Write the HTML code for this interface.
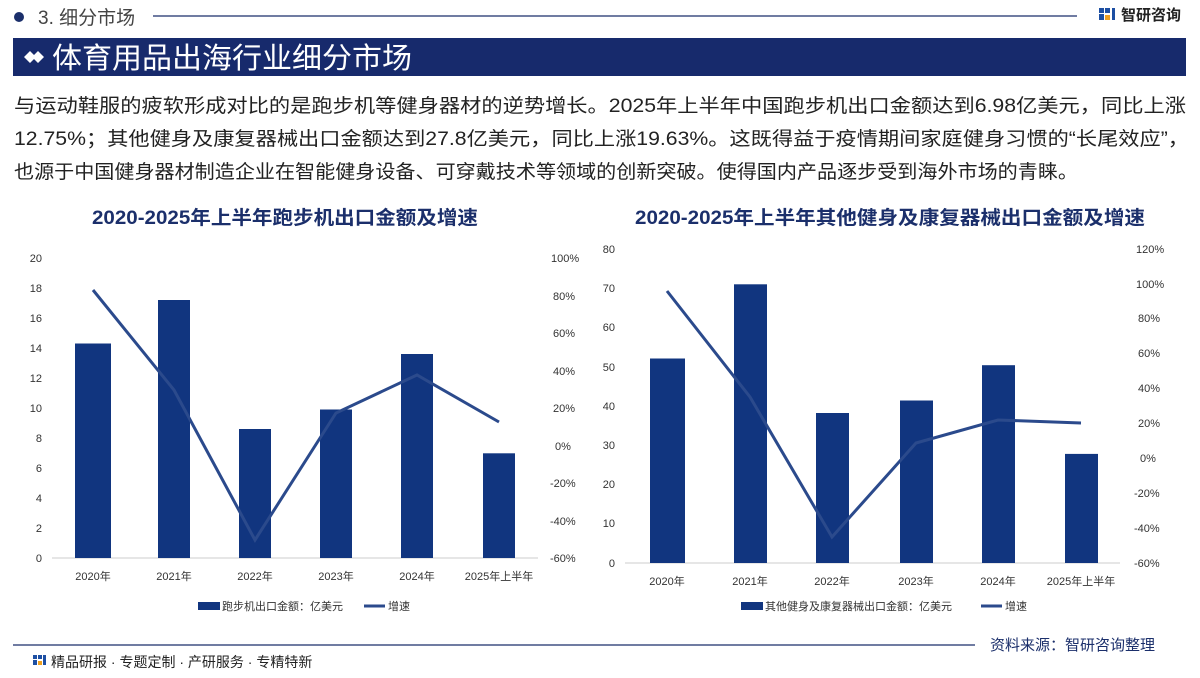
<!DOCTYPE html>
<html><head><meta charset="utf-8"><style>
body{margin:0;width:1200px;height:673px;overflow:hidden;background:#fff;font-family:"Liberation Sans","Noto Sans CJK SC",sans-serif;}
svg text{font-family:"Liberation Sans","Noto Sans CJK SC",sans-serif;}
</style></head><body>
<svg width="1200" height="673" viewBox="0 0 1200 673" xmlns="http://www.w3.org/2000/svg">
<circle cx="19" cy="17" r="5" fill="#1b2f6b"/>
<text x="38" y="24" font-size="19" fill="#444">3. 细分市场</text>
<line x1="153" y1="16" x2="1077" y2="16" stroke="#1b2f6b" stroke-width="1.2"/>
<g fill="#1d4fa3"><rect x="1099" y="8" width="5" height="5"/><rect x="1105" y="8" width="5" height="5"/><rect x="1099" y="14" width="5" height="6"/><rect x="1112" y="8" width="3" height="12"/><rect x="1105" y="15" width="5" height="5" fill="#f0a020"/></g>
<text x="1121" y="20" font-size="15" font-weight="bold" fill="#222">智研咨询</text>
<rect x="13" y="38" width="1173" height="38" fill="#172a6c"/>
<path d="M24 57 L30 51 L36 57 L30 63Z M32 57 L38 51 L44 57 L38 63Z" fill="#fff"/>
<text x="52" y="68" font-size="29" fill="#fff" textLength="360" lengthAdjust="spacingAndGlyphs">体育用品出海行业细分市场</text>
<g font-size="19" fill="#222">
<text x="14" y="112" textLength="1172" lengthAdjust="spacingAndGlyphs">与运动鞋服的疲软形成对比的是跑步机等健身器材的逆势增长。2025年上半年中国跑步机出口金额达到6.98亿美元，同比上涨</text>
<text x="14" y="145" textLength="1175" lengthAdjust="spacingAndGlyphs">12.75%；其他健身及康复器械出口金额达到27.8亿美元，同比上涨19.63%。这既得益于疫情期间家庭健身习惯的“长尾效应”，</text>
<text x="14" y="178" textLength="1064" lengthAdjust="spacingAndGlyphs">也源于中国健身器材制造企业在智能健身设备、可穿戴技术等领域的创新突破。使得国内产品逐步受到海外市场的青睐。</text>
</g>
<!-- left chart -->
<text x="92" y="224" font-size="19" font-weight="bold" fill="#1b2f6b" textLength="386" lengthAdjust="spacingAndGlyphs">2020-2025年上半年跑步机出口金额及增速</text>
<g font-size="11" fill="#333" text-anchor="end">
<text x="42" y="262">20</text><text x="42" y="292">18</text><text x="42" y="322">16</text><text x="42" y="352">14</text><text x="42" y="382">12</text><text x="42" y="412">10</text><text x="42" y="442">8</text><text x="42" y="472">6</text><text x="42" y="502">4</text><text x="42" y="532">2</text><text x="42" y="562">0</text>
</g>
<g font-size="11" fill="#333">
<text x="551" y="262">100%</text><text x="553" y="300">80%</text><text x="553" y="337">60%</text><text x="553" y="375">40%</text><text x="553" y="412">20%</text><text x="555" y="450">0%</text><text x="550" y="487">-20%</text><text x="550" y="525">-40%</text><text x="550" y="562">-60%</text>
</g>
<line x1="52" y1="558" x2="538" y2="558" stroke="#ccc"/>
<g fill="#11357f">
<rect x="75" y="343.5" width="36" height="214.5"/><rect x="158" y="300" width="32" height="258"/><rect x="239" y="429" width="32" height="129"/><rect x="320" y="409.5" width="32" height="148.5"/><rect x="401" y="354" width="32" height="204"/><rect x="483" y="453.3" width="32" height="104.7"/>
</g>
<polyline points="93,290 174,390 255,540 336,413 417,375 499,422" fill="none" stroke="#2b4a8c" stroke-width="3"/>
<g font-size="11" fill="#333" text-anchor="middle">
<text x="93" y="580">2020年</text><text x="174" y="580">2021年</text><text x="255" y="580">2022年</text><text x="336" y="580">2023年</text><text x="417" y="580">2024年</text><text x="499" y="580">2025年上半年</text>
</g>
<rect x="198" y="602" width="22" height="8" fill="#11357f"/>
<text x="222" y="610" font-size="11" fill="#333">跑步机出口金额：亿美元</text>
<line x1="364" y1="606" x2="385" y2="606" stroke="#2b4a8c" stroke-width="3"/>
<text x="388" y="610" font-size="11" fill="#333">增速</text>
<!-- right chart -->
<text x="635" y="224" font-size="19" font-weight="bold" fill="#1b2f6b" textLength="510" lengthAdjust="spacingAndGlyphs">2020-2025年上半年其他健身及康复器械出口金额及增速</text>
<g font-size="11" fill="#333" text-anchor="end">
<text x="615" y="253">80</text><text x="615" y="292">70</text><text x="615" y="331">60</text><text x="615" y="371">50</text><text x="615" y="410">40</text><text x="615" y="449">30</text><text x="615" y="488">20</text><text x="615" y="527">10</text><text x="615" y="567">0</text>
</g>
<g font-size="11" fill="#333">
<text x="1136" y="253">120%</text><text x="1136" y="288">100%</text><text x="1138" y="322">80%</text><text x="1138" y="357">60%</text><text x="1138" y="392">40%</text><text x="1138" y="427">20%</text><text x="1140" y="462">0%</text><text x="1134" y="497">-20%</text><text x="1134" y="532">-40%</text><text x="1134" y="567">-60%</text>
</g>
<line x1="625" y1="563" x2="1120" y2="563" stroke="#ccc"/>
<g fill="#11357f">
<rect x="650" y="358.5" width="35" height="204.5"/><rect x="734" y="284.3" width="33" height="278.7"/><rect x="816" y="413" width="33" height="150"/><rect x="900" y="400.5" width="33" height="162.5"/><rect x="982" y="365.2" width="33" height="197.8"/><rect x="1065" y="453.9" width="33" height="109.1"/>
</g>
<polyline points="667,291 750,397 832,537 916,443 998,420 1081,423" fill="none" stroke="#2b4a8c" stroke-width="3"/>
<g font-size="11" fill="#333" text-anchor="middle">
<text x="667" y="585">2020年</text><text x="750" y="585">2021年</text><text x="832" y="585">2022年</text><text x="916" y="585">2023年</text><text x="998" y="585">2024年</text><text x="1081" y="585">2025年上半年</text>
</g>
<rect x="741" y="602" width="22" height="8" fill="#11357f"/>
<text x="765" y="610" font-size="11" fill="#333">其他健身及康复器械出口金额：亿美元</text>
<line x1="981" y1="606" x2="1002" y2="606" stroke="#2b4a8c" stroke-width="3"/>
<text x="1005" y="610" font-size="11" fill="#333">增速</text>
<!-- footer -->
<line x1="13" y1="645" x2="975" y2="645" stroke="#1b2f6b" stroke-width="1.2"/>
<text x="990" y="650" font-size="15" fill="#1b2f6b">资料来源：智研咨询整理</text>
<g fill="#1d4fa3"><rect x="33" y="655" width="4" height="4"/><rect x="38" y="655" width="4" height="4"/><rect x="33" y="660" width="4" height="5"/><rect x="43" y="655" width="3" height="10"/><rect x="38" y="661" width="4" height="4" fill="#f0a020"/></g>
<text x="51" y="667" font-size="14" fill="#222">精品研报 · 专题定制 · 产研服务 · 专精特新</text>
</svg>
</body></html>
